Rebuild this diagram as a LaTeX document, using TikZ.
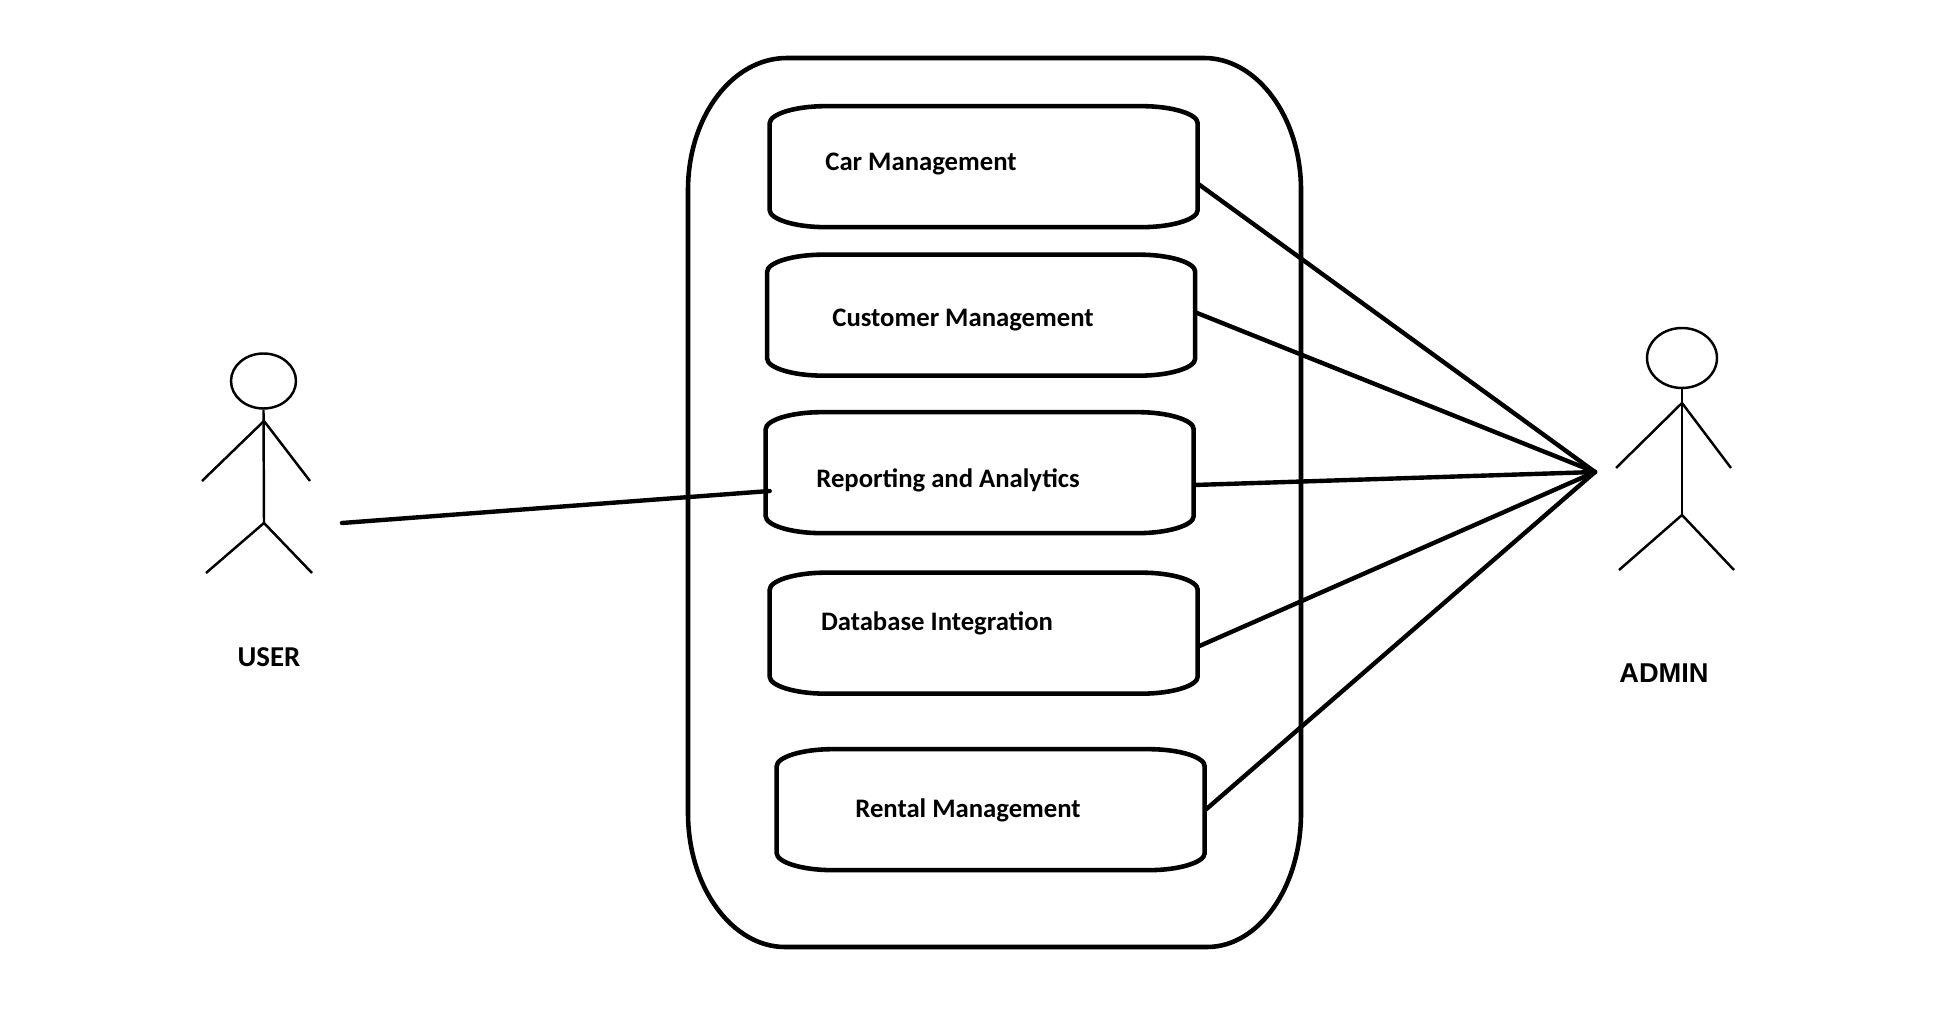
\documentclass[tikz,border=0pt]{standalone}
\usepackage{fontspec}
\setmainfont{Carlito}
\newfontfamily\arialfont{Liberation Sans}
\usetikzlibrary{positioning,calc,shapes.geometric}
\tikzset{
  boundary/.style ={black,line width=2.6pt,line join=round},
  casenode/.style ={rectangle,minimum width=8.56cm,minimum height=2.42cm,inner sep=0pt},
  caseline/.style ={black,line width=2.6pt,line join=round},
  caselabel/.style={inner sep=0pt,font=\fontsize{15.2}{18}\selectfont\bfseries},
  assoc/.style    ={black,line width=2.5pt,line cap=round},
  head/.style     ={ellipse,draw,line width=1.4pt,inner sep=0pt},
  limb/.style     ={black,line width=1.4pt},
  actorname/.style={inner sep=0pt,font=\fontsize{16.4}{19}\selectfont\bfseries},
}
\begin{document}
\begin{tikzpicture}[x=0.02cm,y=-0.02cm]
  \useasboundingbox (0,0) rectangle (1957,1030);
  % system boundary
  \draw[boundary] (688,190) .. controls (688,117) and (732,58) .. (787,58) -- (1204,58)
    .. controls (1257,58) and (1301,117) .. (1301,190) -- (1301,813)
    .. controls (1301,887) and (1259,947) .. (1207,947) -- (785,947)
    .. controls (732,947) and (688,887) .. (688,813) -- cycle;
  % use cases
  \node[casenode](car) at (984,167){};         \node[caselabel](carlabel) at (921,164){Car Management};
  \node[casenode](customer) at (981.5,315.5){};\node[caselabel](customerlabel) at (963,320.5){Customer Management};
  \node[casenode](reporting) at (980,473){};   \node[caselabel](reportinglabel) at (948,480.5){Reporting and Analytics};
  \node[casenode](database) at (984,633.5){};  \node[caselabel](databaselabel) at (937,623.5){Database Integration};
  \node[casenode](rental) at (991,810){};      \node[caselabel](rentallabel) at (968,810.5){Rental Management};
  \foreach \n in {car,customer,reporting,database,rental}{
    \draw[caseline] ($(\n.north west)+(0,17)$) .. controls +(0,-9) and +(-31,0) .. ++(56,-17) -- ++(316,0)
      .. controls +(31,0) and +(0,-9) .. ++(56,17) -- ++(0,87)
      .. controls +(0,9) and +(31,0) .. ++(-56,17) -- ++(-316,0)
      .. controls +(-31,0) and +(0,9) .. ++(-56,-17) -- cycle;
  }
  % user
  \node[head,minimum width=1.3cm,minimum height=1.1cm](userhead) at (263.5,381){};
  \coordinate(userneck) at (264,421); \coordinate(userhip) at (264,523);
  \coordinate(userarml) at (202,481); \coordinate(userarmr) at (310,481);
  \coordinate(userlegl) at (206,573); \coordinate(userlegr) at (312,573);
  \node[actorname](username) at (269,657){USER};
  % admin
  \node[head,minimum width=1.4cm,minimum height=1.2cm](adminhead) at (1682,358){};
  \coordinate(adminneck) at (1682,403); \coordinate(adminhip) at (1682,515);
  \coordinate(adminarml) at (1616,468); \coordinate(adminarmr) at (1731,468);
  \coordinate(adminlegl) at (1619,570); \coordinate(adminlegr) at (1734,570);
  \node[actorname,font=\fontsize{15.5}{19}\selectfont\bfseries\arialfont](adminname) at (1664,673){ADMIN};
  \foreach \a in {user,admin}{
    \draw[limb](\a head.south)--(\a hip);
    \draw[limb](\a arml)--(\a neck)--(\a armr);
    \draw[limb](\a legl)--(\a hip)--(\a legr);
  }
  % associations
  \coordinate(hub) at (1595,472);
  \coordinate(userend) at (342,523);
  \draw[assoc](userend)--($(reporting.west)+(4,18)$);
  \foreach \n/\d in {car/17,customer/-3,reporting/12,database/13,rental/0}{\draw[assoc]($(\n.east)+(0,\d)$)--(hub);}
\end{tikzpicture}
\end{document}
